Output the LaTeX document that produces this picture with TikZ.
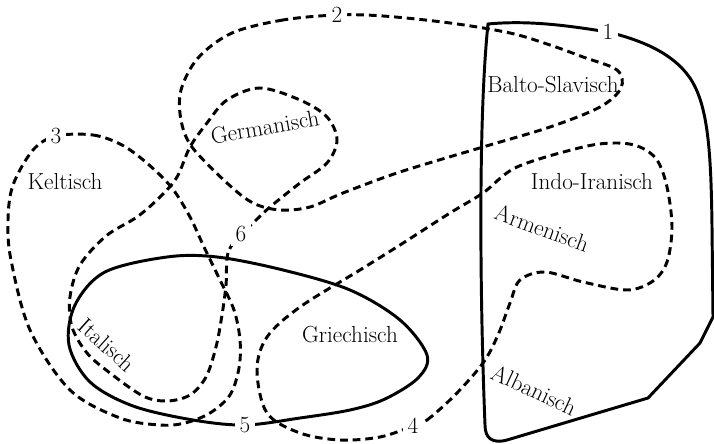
\documentclass[tikz,border=0pt]{standalone}
\usepackage{fontspec}
\usepackage{tikz}
\begin{document}
\begin{tikzpicture}[x=0.025cm, y=-0.025cm, line width=2.1pt,
    every node/.style={font=\fontsize{16.5}{19}\selectfont},
    solidline/.style={draw=black},
    dashline/.style={draw=black, dash pattern=on 5.5pt off 3.5pt},
    number/.style={fill=white, inner sep=3pt}]
    \useasboundingbox (0,0) rectangle (714,444);

    \draw [solidline] (488,24) .. controls (530,20) and (570,26) .. (608,32)
    .. controls (640,40) and (672,52) .. (690,78)
    .. controls (708,105) and (711,150) .. (712,227)
    -- (713,317) -- (700,343) -- (648,398) -- (507,440)
    .. controls (492,444) and (485,438) .. (485,425)
    .. controls (480,300) and (478,120) .. (488,24) -- cycle;
    \draw [dashline] plot [smooth cycle, tension=0.55] coordinates {
    (337,15) (283,20) (232,33) (198,58) (181,90) (181,120) (192,147)
    (227,183) (253,203) (280,210) (310,207) (343,193) (400,172) (483,147)
    (550,127) (600,107) (621,88) (617,70) (583,57) (550,45) (510,33)
    (450,23) (383,16)};
    \draw [dashline] plot [smooth cycle, tension=0.55] coordinates {
    (56,136) (93,135) (122,145) (148,164) (172,188) (190,217) (204,247)
    (220,280) (234,310) (240,340) (239,368) (230,395) (210,413) (185,423)
    (160,425) (120,418) (70,390) (30,330) (11,260) (8,220) (13,185)
    (33,150)};
    \draw [dashline] plot [smooth cycle, tension=0.55] coordinates {
    (413,426) (427,420) (455,395) (483,363) (498,335) (510,303) (520,280)
    (545,272) (583,282) (627,290) (653,281) (667,262) (672,227) (667,187)
    (657,160) (640,147) (617,143) (583,147) (517,167) (483,193) (450,213)
    (400,245) (360,270) (300,307) (267,337) (257,370) (267,413) (300,433)
    (340,440) (380,437)};
    \draw [solidline] plot [smooth cycle, tension=0.55] coordinates {
    (245,425) (193,420) (133,406) (90,382) (69,345) (75,305) (105,272)
    (167,257) (217,257) (283,270) (350,290) (400,320) (427,355) (418,378)
    (385,399) (350,410) (300,418)};
    \draw [dashline] plot [smooth cycle, tension=0.55] coordinates {
    (241,234) (228,253) (226,285) (222,315) (216,347) (206,377) (190,395)
    (167,401) (143,396) (110,373) (87,353) (72,327) (70,297) (80,265)
    (106,236) (137,217) (160,197) (177,177) (190,147) (207,123) (227,100)
    (260,88) (300,100) (327,117) (337,140) (327,163) (300,183) (270,207)
    (253,223)};

    \node [number] (n1) at (608,32) {1};
    \node [number] (n2) at (337,15) {2};
    \node [number] (n3) at (56,136) {3};
    \node [number] (n4) at (413,426) {4};
    \node [number] (n5) at (245,425) {5};
    \node [number] (n6) at (241,234) {6};

    \node (balto) at (553,85) {Balto-Slavisch};
    \node [rotate=10] (german) at (265,127) {Germanisch};
    \node (kelt) at (65,182) {Keltisch};
    \node (indo) at (592,182) {Indo-Iranisch};
    \node [rotate=-20] (armen) at (542,228) {Armenisch};
    \node [rotate=-42] (ital) at (107,345) {Italisch};
    \node (griech) at (350,335) {Griechisch};
    \node [rotate=-25] (alban) at (534,390) {Albanisch};
\end{tikzpicture}
\end{document}
